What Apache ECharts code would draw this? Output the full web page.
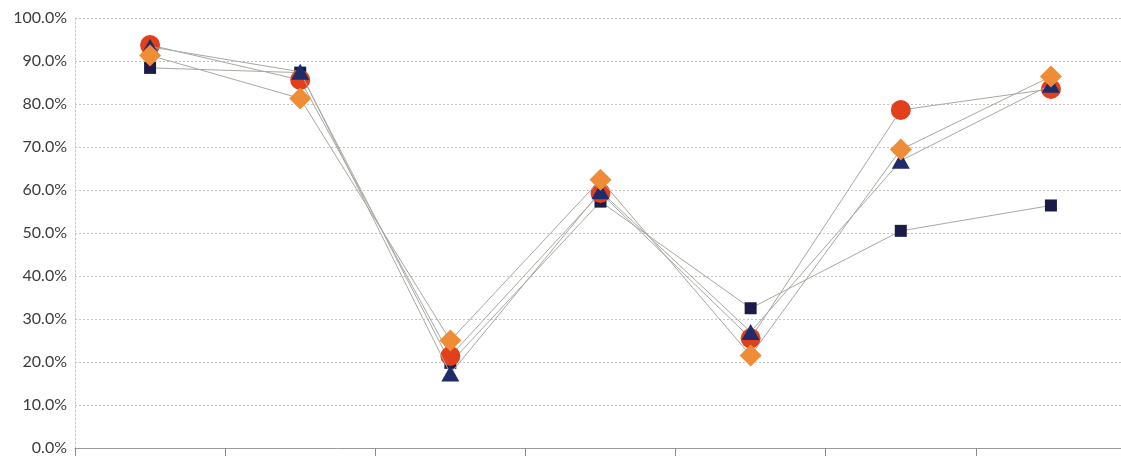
<!DOCTYPE html>
<html>
<head>
<meta charset="utf-8">
<script src="https://cdn.jsdelivr.net/npm/echarts@6/dist/echarts.min.js"></script>
<style>
html,body{margin:0;padding:0;background:#fff;overflow:hidden;width:1121px;height:456px;}
#c{width:1127px;height:456px;}
</style>
</head>
<body>
<div id="c"></div>
<script>
const categories = ['1', '2', '3', '4', '5', '6', '7'];
const squareValues   = [88.4, 87.3, 19.8, 57.3, 32.5, 50.5, 56.4];
const circleValues   = [93.7, 85.6, 21.4, 59.3, 25.5, 78.6, 83.5];
const triangleValues = [93.3, 87.5, 17.3, 59.7, 27.0, 66.8, 84.5];
const diamondValues  = [91.3, 81.3, 25.0, 62.4, 21.5, 69.4, 86.4];
const yTicks = [0, 10, 20, 30, 40, 50, 60, 70, 80, 90, 100];

const lineStyle = { color: '#a8a8a2', width: 1 };
function mk(name, data, symbol, size, color, z) {
  return {
    name, type: 'line', data, symbol, symbolSize: size,
    showAllSymbol: true,
    lineStyle, itemStyle: { color, opacity: 1 }, z,
    emphasis: { disabled: true }, animation: false
  };
}

const chart = echarts.init(document.getElementById('c'), null, { renderer: 'canvas' });
chart.setOption({
  backgroundColor: '#fff',
  animation: false,
  grid: { left: 75, top: 18, right: 1, bottom: 8, containLabel: false },
  xAxis: {
    type: 'category', data: categories, boundaryGap: true,
    axisLine: { show: true, lineStyle: { color: '#9a9a96', width: 1 } },
    axisTick: { show: true, inside: false, length: 8, alignWithLabel: false, lineStyle: { color: '#8a8a86' } },
    axisLabel: { show: false },
    splitLine: { show: false }
  },
  yAxis: {
    type: 'value', min: yTicks[0], max: yTicks[yTicks.length - 1], interval: 10,
    axisLine: { show: true, lineStyle: { color: '#c8c8c4', type: [2, 2] } },
    axisTick: { show: false },
    axisLabel: {
      margin: 8, color: '#3c3c3c', fontSize: 16, fontFamily: 'Lato, "Noto Sans", sans-serif',
      formatter: v => v.toFixed(1) + '%'
    },
    splitLine: { show: true, lineStyle: { color: '#c4c4bf', type: [2, 2], width: 1 } }
  },
  series: [
    mk('square', squareValues, 'rect', 12, '#1b1a48', 2),
    mk('circle', circleValues, 'circle', 20, '#e2401c', 3),
    mk('triangle', triangleValues, 'triangle', [18, 16], '#1e2c6a', 4),
    mk('diamond', diamondValues, 'diamond', 22, '#f08c36', 5)
  ]
});
</script>
</body>
</html>
